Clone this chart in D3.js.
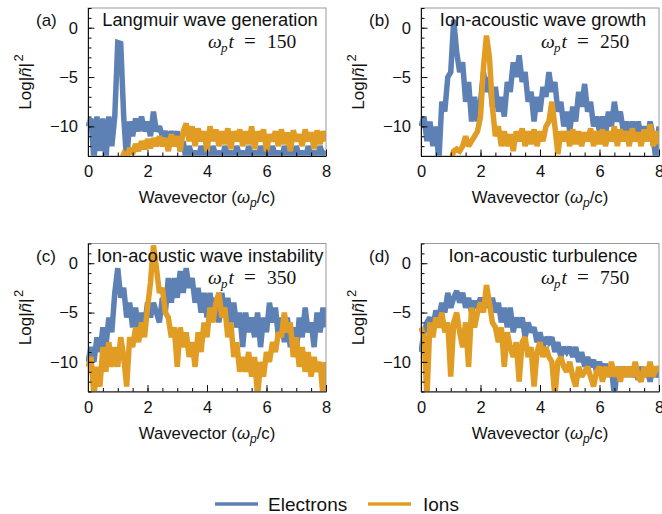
<!DOCTYPE html>
<html><head><meta charset="utf-8">
<script src="https://cdn.jsdelivr.net/npm/d3@7"></script>
<style>
body{margin:0;background:#fff;}
svg{display:block;font-family:"Liberation Sans",Arial,sans-serif;}
</style></head>
<body><svg id="c" width="662" height="514"></svg>
<script>
// ---- data (k grid: 0 to 8 in steps of 0.1) ----
const kStep = 0.1;
const kGrid = d3.range(81).map(i => +(i * kStep).toFixed(1));

const electronsA = [-10,-9.2,-13.5,-9,-12.5,-9.2,-13.5,-9,-12,-9,-1.5,-1.6,-9,-13.5,-9.5,-11,-9.2,-10.5,-9,-10.5,-9.5,-11,-8.5,-10.5,-10,-11,-10.5,-11.5,-10.5,-11.5,-10.5,-12.5,-11.5,-13.5,-12,-13,
 -12.5,-13.5,-12,-13,-12.5,-13.5,-12,-13,-12.5,-13.5,-12,-13,-12.5,-13.5,-12,-13,-12.5,-13.5,-12,-13,-12.5,-13.5,-12,-13,-12.5,-13.5,-12,-13,-12.5,-13.5,-12,-13,-12.5,-13.5,-12,-13,-12.5,-13.5,-12,-13,-12.5,-13.5,-12,-13,-12.5];
const ionsA = [null,null,null,null,null,null,null,null,null,null,null,
 -13.5,-12.8,-13.2,-12.2,-12.8,-11.8,-12.5,-11.5,-12.3,-11.3,-12.2,-11.2,-12,-11,-12,-11.2,-12.5,-10.8,-12,-11,-12.5,-10.5,-9.7,-11.5,-10,-12,-10.2,-11.5,-10.5,-12.5,-10,-11.5,-10.3,-12,-10.5,-11.8,-10.2,-12.3,-10.5,-11.5,-10.3,-12,-10.5,-11.8,-10,-12.3,-10.5,-11.5,-10.3,-12.5,-10.8,-11.5,-10.5,-12,-10.3,-11.8,-10.6,-12.5,-10.4,-11.5,-10.8,-12,-10.3,-11.5,-10.6,-12.3,-10.4,-11.8,-10.5,-11.5];

const electronsB = [-10,-9,-11.5,-9.5,-12,-10,-13.5,-7.5,-8.5,-5,-4.5,0.8,-2.5,-4.5,-3.5,-7.5,-5.5,-9.5,-7,-9.5,-7.5,-4.5,-6.5,-5,-8,-6,-8.5,-7,-9,-5.5,-6.5,-3.5,-5,-2.8,-5.5,-4.5,-7.5,-6.5,-9.5,-7,-8.5,-6,-7,-4.5,-6.5,-5.5,-8.5,-7.5,-10,-8.5,-10.5,-8,-9.5,-6.5,-8,-5.7,-8.5,-7.5,-10,-9,-10.5,-9,-11,-8.5,-10,-7.5,-9.5,-8.5,-10.5,-9.5,-11,-9.5,-11,-9.5,-11,-10,-11.5,-9.5,-11,-13.5,-10];
const ionsB = [null,null,null,null,null,null,null,null,null,null,
 -13.5,-12.5,-12.3,-12.5,-12,-11,-12,-11.5,-11,-10.5,-9,-4,-0.8,-3,-8,-11,-10,-12,-10.5,-12,-10.8,-12.5,-10.5,-11.5,-10.2,-12,-10.5,-11.8,-10.3,-12,-10.5,-11.5,-10,-9.5,-7.5,-10,-12.8,-10.5,-11.5,-10.5,-12,-10.3,-11.8,-10.5,-12,-10.6,-11.5,-10.2,-12,-10.5,-11.8,-10.3,-12,-10.5,-11.5,-10,-12,-10.3,-11.5,-10.5,-12,-10.2,-11.5,-10.6,-12,-10.3,-11.5,-9.8,-12,-10.5,-11.8];

const electronsC = [-10,-8.5,-10,-7.5,-9,-6.5,-8.5,-5.5,-7,-3,-0.5,-3.5,-2.5,-5.5,-4,-6.5,-4.5,-7,-5,-6.5,-4,-5.5,-4,-5,-6,-3.5,-5,-1.5,-4,-1.5,-3.5,-0.8,-3,-0.5,-2.5,-1.5,-4,-2.5,-5,-3,-5.5,-3,-5,-3.5,-6,-3,-5.5,-3.5,-6,-4,-6.5,-5,-8.5,-5,-7,-5.5,-7.5,-5,-8.5,-5.5,-7,-4,-6,-4.5,-7.5,-5.5,-8,-5.5,-8.5,-6.5,-9,-5.5,-7.5,-4.5,-7,-6,-8.5,-5,-7,-4.5,-6.5];
const ionsC = [-10.5,-9.5,-13.5,-10.5,-12.5,-8.5,-11,-8,-10.5,-8.5,-10.5,-7.5,-9.5,-12.5,-7.5,-8.5,-6.5,-8,-6,-7.5,-4.5,-2,1.8,-0.5,-3,-2.5,-5,-5.5,-7.5,-6.5,-10.5,-6.5,-8.5,-7,-9.5,-8,-10.5,-7,-9,-6,-7.5,-4.5,-6,-4,-3,-5.5,-4.5,-7.5,-6,-9.5,-8,-11,-9.5,-11,-9,-11.5,-9.5,-13.5,-10,-11.5,-9,-10,-8,-9,-7,-7.5,-5,-7,-6,-9.5,-7.5,-10.5,-8.5,-11,-9,-11.5,-9.5,-11,-10,-13.5,-10];

const electronsD = [-9,-7,-6,-5.5,-6.5,-4.8,-5.5,-4,-5,-3,-4.5,-3.5,-2.8,-4,-3,-4.5,-3.5,-5,-3.8,-4.5,-3.5,-4.5,-3,-4.5,-3.5,-5,-4,-6,-4.5,-6.5,-4.5,-7,-5.5,-6.5,-5.5,-7.5,-6,-7,-6.5,-8,-7,-8.5,-7.5,-8,-7.5,-9,-8,-9.5,-8.5,-9,-8.5,-9.5,-8.5,-10,-9,-10.5,-9.5,-10.5,-9.8,-11,-10,-11,-10.2,-11.5,-10.5,-13.5,-10.5,-11.5,-10.5,-11.5,-10.5,-11.5,-10.8,-11.8,-10.5,-11.5,-10.8,-12,-10.5,-11.5,-11];
const ionsD = [-6.5,-7.5,-13.5,-6,-7.5,-5.5,-6.5,-5,-7,-6,-11.5,-6,-5,-7,-8.5,-6,-10.5,-4.5,-6.5,-5,-4,-5,-2.2,-4,-6,-6.5,-8,-6.5,-10.5,-7,-8.5,-9.5,-8,-12,-8,-7.5,-9.5,-8.5,-12.5,-9,-8,-9.5,-8.5,-9.5,-10,-13.5,-10,-9.5,-10.5,-11,-10,-11.5,-12.5,-10.5,-11.5,-11,-10.5,-11.5,-12.5,-11,-10.5,-12,-10.5,-11.5,-10,-11.5,-10.5,-12,-10.5,-11.5,-10.5,-11.5,-10,-11.5,-12,-10.5,-11.5,-10,-11.5,-10.5,-11];

const panelLetters = ["(a)","(b)","(c)","(d)"];
const panelTitles = ["Langmuir wave generation","Ion-acoustic wave growth","Ion-acoustic wave instability","Ion-acoustic turbulence"];
const panelTimes = [150, 250, 350, 750];
const xTicks = [0,2,4,6,8];
const yTicks = [0,-5,-10];
const seriesNames = ["Electrons","Ions"];
const seriesColors = ["#5E81B5","#E19C24"];

const panels = [
  {e: electronsA, i: ionsA},
  {e: electronsB, i: ionsB},
  {e: electronsC, i: ionsC},
  {e: electronsD, i: ionsD}
];

// ---- layout ----
const svg = d3.select("#c");
const W = 238, H = 148;
const lefts = [88, 421], tops = [8, 243.5];
const x = d3.scaleLinear().domain([0, 8]).range([0, W]);
const y = d3.scaleLinear().domain([-13, 2]).range([H, 0]);
const fmt = d => d < 0 ? "\u2212" + Math.abs(d) : String(d);
const SERIF = "Liberation Serif, Times New Roman, serif";

panels.forEach((p, idx) => {
  const L = lefts[idx % 2], T = tops[Math.floor(idx / 2)];
  const g = svg.append("g").attr("transform", `translate(${L},${T})`);

  g.append("defs").append("clipPath").attr("id", "clip" + idx)
    .append("rect").attr("x", -2).attr("y", 0).attr("width", W + 2).attr("height", H);

  const plot = g.append("g").attr("clip-path", `url(#clip${idx})`);
  const line = d3.line().defined(d => d[1] !== null)
    .x(d => x(d[0])).y(d => y(d[1]));
  [p.e, p.i].forEach((vals, s) => {
    plot.append("path")
      .datum(kGrid.map((k, j) => [k, vals[j]]))
      .attr("d", line)
      .attr("fill", "none")
      .attr("stroke", seriesColors[s])
      .attr("stroke-width", 5.5)
      .attr("stroke-linejoin", "miter")
      .attr("stroke-miterlimit", 2);
  });

  // frame
  g.append("rect").attr("x", 0).attr("y", 0).attr("width", W).attr("height", H)
    .attr("fill", "none").attr("stroke", "#9a9a9a").attr("stroke-width", 1);

  // minor ticks
  g.append("g").attr("transform", `translate(0,${H})`)
    .call(d3.axisBottom(x).tickValues(d3.range(0, 8.01, 0.5)).tickSize(-3.5).tickSizeOuter(0).tickFormat(""))
    .call(a => a.select(".domain").remove());
  g.append("g")
    .call(d3.axisLeft(y).tickValues(d3.range(-13, 2.01, 1)).tickSize(-3.5).tickSizeOuter(0).tickFormat(""))
    .call(a => a.select(".domain").remove());

  // major axes
  const xa = g.append("g").attr("transform", `translate(0,${H})`)
    .call(d3.axisBottom(x).tickValues(xTicks).tickSize(-6.5).tickSizeOuter(0).tickPadding(9.5).tickFormat(fmt));
  const ya = g.append("g")
    .call(d3.axisLeft(y).tickValues(yTicks).tickSize(-6.5).tickSizeOuter(0).tickPadding(10).tickFormat(fmt));
  [xa, ya].forEach(a => {
    a.selectAll("text").attr("font-size", 16.5).attr("fill", "#111")
      .attr("font-family", "Liberation Sans, Arial, sans-serif");
    a.selectAll("line").attr("stroke", "#111");
    a.select(".domain").attr("stroke", "#111");
  });

  // panel letter
  g.append("text").attr("x", -52).attr("y", 18).attr("font-size", 17).attr("fill", "#111")
    .text(panelLetters[idx]);
  // title
  g.append("text").attr("x", W / 2 + 3).attr("y", 18).attr("text-anchor", "middle")
    .attr("font-size", 18.3).attr("fill", "#111").text(panelTitles[idx]);
  // time label
  const tt = g.append("text").attr("y", 40)
    .attr("font-family", SERIF).attr("font-size", 19.5).attr("fill", "#111");
  tt.append("tspan").attr("x", 120).attr("font-style", "italic").text("\u03C9");
  tt.append("tspan").attr("x", 133).attr("font-style", "italic").attr("font-size", 13).attr("dy", 4).text("p");
  tt.append("tspan").attr("x", 140.5).attr("font-style", "italic").attr("dy", -4).text("t");
  tt.append("tspan").attr("x", 156).attr("font-size", 21).text("=");
  tt.append("tspan").attr("x", 179).text(String(panelTimes[idx]));

  // y label
  const yl = g.append("text").attr("transform", `translate(-57,${H / 2}) rotate(-90)`)
    .attr("text-anchor", "middle").attr("font-size", 17).attr("fill", "#111");
  yl.append("tspan").text("Log|");
  yl.append("tspan").attr("font-style", "italic").text("\u00F1");
  yl.append("tspan").text("|");
  yl.append("tspan").attr("font-size", 13).attr("dy", -8).attr("dx", 1.5).text("2");

  // x label
  const xl = g.append("text").attr("x", W / 2).attr("y", H + 47).attr("text-anchor", "middle")
    .attr("font-size", 16.8).attr("fill", "#111");
  xl.append("tspan").text("Wavevector (");
  xl.append("tspan").attr("font-style", "italic").text("\u03C9");
  xl.append("tspan").attr("font-style", "italic").attr("font-size", 12).attr("dy", 4).text("p");
  xl.append("tspan").attr("dy", -4).text("/c)");
});

// legend
const leg = svg.append("g");
const legX = [215, 368];
seriesNames.forEach((n, s) => {
  leg.append("line").attr("x1", legX[s]).attr("x2", legX[s] + 43).attr("y1", 504).attr("y2", 504)
    .attr("stroke", seriesColors[s]).attr("stroke-width", 3.5);
  leg.append("text").attr("x", legX[s] + 53 + (s ? 2 : 0)).attr("y", 511).attr("font-size", 19).attr("fill", "#111").text(n);
});
</script></body></html>
